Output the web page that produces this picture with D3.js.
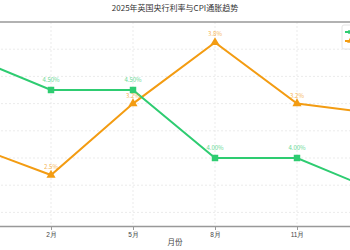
<!DOCTYPE html>
<html><head><meta charset="utf-8">
<script src="https://cdn.jsdelivr.net/npm/d3@7"></script>
<style>body{margin:0;background:#fff;overflow:hidden}svg{display:block;font-family:"Noto Sans CJK SC","DejaVu Sans",sans-serif}</style>
</head><body>
<script>
const months = [-1, 2, 5, 8, 11, 14];
const tickMonths = [2, 5, 8, 11];
const tickLabels = ["2月", "5月", "8月", "11月"];
const rateValues = [4.75, 4.5, 4.5, 4.0, 4.0, 3.75];
const cpiValues = [2.8, 2.5, 3.2, 3.8, 3.2, 3.1];
const seriesNames = ["英国央行利率", "CPI通胀率"];
const leftTicks = [3.6, 3.8, 4.0, 4.2, 4.4, 4.6, 4.8];

(function () {
const W = 350, H = 250;
const svg = d3.select("body").append("svg").attr("width", W).attr("height", H);
const plotTop = 22, plotBottom = 226;
const x = d3.scaleLinear().domain([-1, 14]).range([-31, 379]);
const yL = d3.scaleLinear().domain([3.5, 5.0]).range([plotBottom, plotTop]);
const yR = d3.scaleLinear().domain([2.0, 4.0]).range([plotBottom, plotTop]);
const green = "#2ecc71", orange = "#f39c12";

svg.append("text").attr("x", W/2).attr("y", 11).attr("text-anchor", "middle")
  .attr("font-size", 8).attr("fill", "#333").text("2025年英国央行利率与CPI通胀趋势");

// grid
svg.append("g").selectAll("line").data(leftTicks).join("line")
  .attr("x1", x(-1)).attr("x2", x(14)).attr("y1", d => yL(d)).attr("y2", d => yL(d))
  .attr("stroke", "#e6e6e6").attr("stroke-width", 0.8).attr("stroke-dasharray", "2,2");
svg.append("g").selectAll("line").data(tickMonths).join("line")
  .attr("x1", d => x(d)).attr("x2", d => x(d)).attr("y1", plotTop).attr("y2", plotBottom)
  .attr("stroke", "#e6e6e6").attr("stroke-width", 0.8).attr("stroke-dasharray", "2,2");

// top border
svg.append("line").attr("x1", x(-1)).attr("x2", x(14)).attr("y1", plotTop).attr("y2", plotTop)
  .attr("stroke", "#999").attr("stroke-width", 1.5);

// x axis
const xa = svg.append("g").attr("transform", `translate(0,${plotBottom})`)
  .call(d3.axisBottom(x).tickValues(tickMonths).tickFormat((d, i) => tickLabels[i]).tickSize(4).tickPadding(2));
xa.select(".domain").attr("stroke", "#999").attr("stroke-width", 1.5);
xa.selectAll(".tick line").attr("stroke", "#999");
xa.selectAll("text").attr("font-size", 6.5).attr("fill", "#444");
svg.append("text").attr("x", W/2).attr("y", 245).attr("text-anchor", "middle")
  .attr("font-size", 7.5).attr("fill", "#444").text("月份");

const idx = d3.range(months.length);
const visible = idx.filter(i => x(months[i]) > 0 && x(months[i]) < W);
const lineG = d3.line().x(i => x(months[i])).y(i => yL(rateValues[i]));
const lineO = d3.line().x(i => x(months[i])).y(i => yR(cpiValues[i]));
svg.append("path").attr("d", lineO(idx)).attr("fill", "none").attr("stroke", orange).attr("stroke-width", 2);
svg.append("path").attr("d", lineG(idx)).attr("fill", "none").attr("stroke", green).attr("stroke-width", 2);

const sq = d3.symbol().type(d3.symbolSquare).size(42);
const tri = d3.symbol().type(d3.symbolTriangle).size(36);
svg.append("g").selectAll("path").data(idx).join("path")
  .attr("transform", i => `translate(${x(months[i])},${yR(cpiValues[i])})`).attr("d", tri).attr("fill", orange);
svg.append("g").selectAll("path").data(idx).join("path")
  .attr("transform", i => `translate(${x(months[i])},${yL(rateValues[i])})`).attr("d", sq).attr("fill", green);

svg.append("g").selectAll("text").data(visible).join("text")
  .attr("x", i => x(months[i])).attr("y", i => yL(rateValues[i]) - 8)
  .attr("text-anchor", "middle").attr("font-size", 6).attr("fill", green).attr("opacity", 0.75)
  .text(i => rateValues[i].toFixed(2) + "%");
svg.append("g").selectAll("text").data(visible).join("text")
  .attr("x", i => x(months[i])).attr("y", i => yR(cpiValues[i]) - 6)
  .attr("text-anchor", "middle").attr("font-size", 6).attr("fill", orange).attr("opacity", 0.75)
  .text(i => cpiValues[i].toFixed(1) + "%");

// legend
const lg = svg.append("g").attr("transform", "translate(342,25)");
lg.append("rect").attr("width", 70).attr("height", 24).attr("rx", 2)
  .attr("fill", "#fff").attr("fill-opacity", 0.9).attr("stroke", "#ddd").attr("stroke-width", 0.8);
[green, orange].forEach((c, i) => {
  const g = lg.append("g").attr("transform", `translate(3,${7 + i * 9})`);
  g.append("line").attr("x1", 0).attr("x2", 10).attr("stroke", c).attr("stroke-width", 2);
  g.append("path").attr("transform", "translate(5,0)").attr("d", i === 0 ? d3.symbol().type(d3.symbolSquare).size(14)() : d3.symbol().type(d3.symbolTriangle).size(14)()).attr("fill", c);
  g.append("text").attr("x", 13).attr("y", 2.5).attr("font-size", 6.5).attr("fill", "#333").text(seriesNames[i]);
});
})();
</script>
</body></html>
